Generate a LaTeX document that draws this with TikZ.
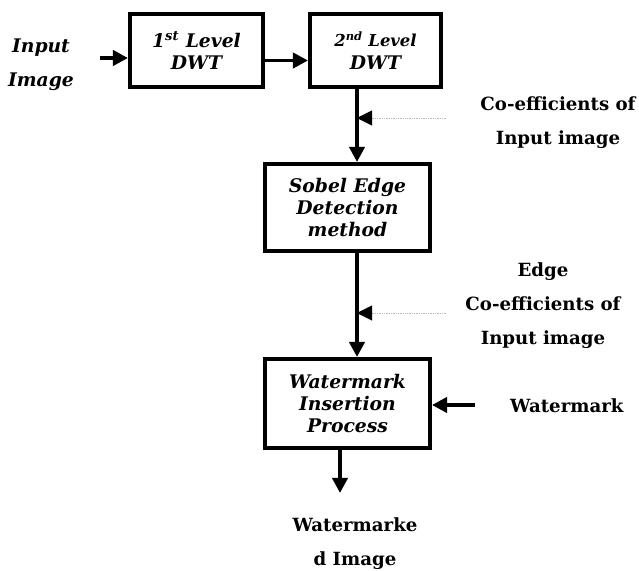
\documentclass[tikz,border=0pt]{standalone}
\usepackage{fontspec}
\setmainfont{DejaVu Serif}
\usetikzlibrary{arrows.meta, positioning}
\tikzstyle{block}=[draw,line width=3.4pt,fill=white,rectangle,align=center,inner sep=0pt,font=\bfseries\itshape\fontsize{16}{19}\selectfont]
\tikzstyle{note}=[align=center,inner sep=0pt,font=\bfseries\fontsize{15.5}{29}\selectfont]
\tikzstyle{flow}=[line width=3.4pt,-{Triangle[length=13pt,width=13pt]}]
\tikzstyle{side}=[draw=gray!55,line width=0.5pt,densely dotted,-{Triangle[length=13pt,width=13pt,color=black]}]

\begin{document}
\begin{tikzpicture}[x=0.03cm,y=-0.03cm]
    \useasboundingbox (0,0) rectangle (639,571);
    \node[note, font=\bfseries\itshape\fontsize{16}{29}\selectfont] (in) at (41,65) {Input\\Image};
    \node[block, minimum width=3.99cm, minimum height=2.19cm] (dwt1) at (196.5,50.5) {1\textsuperscript{st} Level\\DWT};
    \node[block, minimum width=3.93cm, minimum height=2.19cm, right of=dwt1, node distance=5.37cm] (dwt2) {{\fontsize{14}{19}\selectfont 2\textsuperscript{nd} Level}\\DWT};
    \node[block, minimum width=4.95cm, minimum height=2.61cm] (sobel) at (347.5,207.5) {Sobel Edge\\Detection\\method};
    \node[block, minimum width=4.95cm, minimum height=2.67cm, below of=sobel, node distance=5.88cm] (wm) {Watermark\\Insertion\\Process};
    \node[note] (co1) at (558,123) {Co-efficients of\\Input image};
    \node[note] (co2) at (543,306) {Edge\\Co-efficients of\\Input image};
    \node[note, anchor=west] (mark) at (510,406) {Watermark};
    \node[note] (out) at (355,544) {Watermarke\\d Image};
    \coordinate (inA) at (100,58);
    \coordinate (j1) at (357,118);
    \coordinate (c1) at (446,118);
    \coordinate (j2) at (357,313);
    \coordinate (c2) at (446,313);
    \coordinate (wA) at (475,405);
    \coordinate (oA) at (340,493);
    \draw[flow] (inA) -- (inA -| dwt1.west);
    \draw[flow] ([yshift=-0.3cm]dwt1.east) -- ([yshift=-0.3cm]dwt2.west);
    \draw[flow] (dwt2.south -| j1) -- (sobel.north -| j1);
    \draw[flow] (sobel.south -| j2) -- (wm.north -| j2);
    \draw[flow] (wA) -- (wA -| wm.east);
    \draw[flow] (wm.south -| oA) -- (oA);
    \draw[side] (c1) -- (j1);
    \draw[side] (c2) -- (j2);
\end{tikzpicture}
\end{document}
